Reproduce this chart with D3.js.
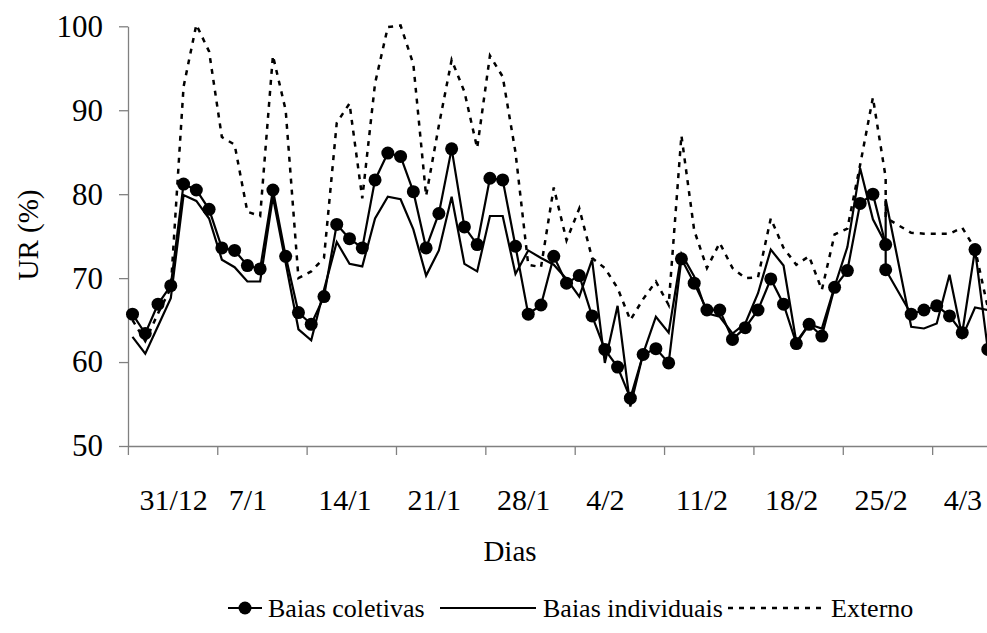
<!DOCTYPE html>
<html><head><meta charset="utf-8">
<script src="https://cdn.jsdelivr.net/npm/d3@7"></script>
<style>
body{margin:0;background:#fff}
svg{display:block}
svg text{font-family:"Liberation Serif","Tinos","Times New Roman",Times,"DejaVu Serif","Noto Serif",serif !important;fill:#000}
</style>
</head><body>
<svg id="c" width="987" height="633"></svg>
<script>
// Days counted from 31/12 (day 60 missing in the source; day 59 appears twice)
const dias = [0,1,2,3,4,5,6,7,8,9,10,11,12,13,14,15,16,17,18,19,20,21,22,23,24,25,26,27,28,29,
  30,31,32,33,34,35,36,37,38,39,40,41,42,43,44,45,46,47,48,49,50,51,52,53,54,55,56,57,58,59,59,
  61,62,63,64,65,66,67];
const coletivas = [65.7,63.4,66.9,69.1,81.2,80.5,78.2,73.6,73.3,71.5,71.1,80.5,72.6,65.9,64.5,67.8,
  76.4,74.7,73.6,81.7,84.9,84.5,80.3,73.6,77.7,85.4,76.1,74.0,81.9,81.7,73.8,65.7,66.8,72.6,69.4,
  70.3,65.5,61.5,59.4,55.7,60.9,61.6,59.9,72.3,69.4,66.2,66.2,62.7,64.1,66.2,69.9,66.9,62.2,64.5,
  63.1,68.9,70.9,78.9,80.0,74.0,71.0,65.7,66.2,66.7,65.5,63.5,73.4,61.5];
const individuais = [63.0,61.0,64.3,67.6,79.9,79.2,77.1,72.2,71.3,69.6,69.6,79.7,71.8,63.9,62.6,68.6,
  74.3,71.7,71.4,77.1,79.7,79.4,75.8,70.3,73.3,79.7,71.7,70.8,77.4,77.4,70.5,73.3,72.4,71.6,69.9,
  67.8,72.2,59.9,66.7,54.7,61.0,65.4,63.5,72.9,70.2,65.8,65.4,63.4,64.6,68.2,73.4,71.5,62.4,64.5,
  64.0,69.0,73.7,83.1,77.0,74.1,79.4,64.2,64.0,64.6,70.4,63.0,66.5,66.2];
const externo = [65.0,62.5,65.8,68.8,92.8,100.2,97.0,86.8,85.9,77.9,77.4,96.5,90.0,70.0,70.8,72.4,
  88.5,90.8,79.5,93.2,99.9,100.1,95.5,79.8,88.2,96.0,92.2,85.5,96.5,94.0,85.0,71.6,71.3,80.8,74.5,
  78.3,72.4,71.2,68.8,65.0,67.5,69.6,66.8,87.0,75.7,71.2,74.2,71.2,70.0,70.1,77.1,73.6,71.6,72.6,
  68.6,75.2,75.9,83.5,91.5,82.0,77.2,75.4,75.3,75.3,75.3,76.0,73.5,66.5];
const semanas = [0,7,14,21,28,35,42,49,56,63];
const rotulos = ["31/12","7/1","14/1","21/1","28/1","4/2","11/2","18/2","25/2","4/3"];
const yTicks = [50,60,70,80,90,100];
const series = ["Baias coletivas","Baias individuais","Externo"];

const FONT = '"Liberation Serif","Tinos","Times New Roman",Times,"DejaVu Serif","Noto Serif",serif';
const svg = d3.select("#c");
const x = d3.scaleLinear().domain([-0.36, 67]).range([127.9, 987.8]);
const y = d3.scaleLinear().domain([50, 100]).range([446, 26.3]);
const axisColor = "#808080";

// Y axis
const gy = svg.append("g").attr("transform","translate(128,0)")
  .call(d3.axisLeft(y).tickValues(yTicks).tickSize(9).tickSizeOuter(0).tickPadding(16).tickFormat(d3.format("d")));
gy.attr("font-family", FONT);
gy.selectAll("path,line").attr("stroke",axisColor).attr("stroke-width",1.3);
gy.selectAll("text").attr("font-size",31).attr("fill","#000");

// X axis
const gx = svg.append("g").attr("transform","translate(0,446)")
  .call(d3.axisBottom(x).tickValues(semanas.map(d=>d-0.36)).tickSize(9).tickSizeOuter(0).tickFormat(""));
gx.selectAll("path,line").attr("stroke",axisColor).attr("stroke-width",1.3);
svg.append("g").attr("font-family", FONT).selectAll("text").data(semanas).join("text")
  .attr("x", (d)=>x(d)+7).attr("y", 510)
  .attr("font-size",30).attr("text-anchor","start")
  .text((d,i)=>rotulos[i]);

// titles
svg.append("text").attr("font-family", FONT).attr("x",510).attr("y",561).attr("text-anchor","middle").attr("font-size",29).text("Dias");
svg.append("text").attr("font-family", FONT).attr("transform","translate(38,235) rotate(-90)").attr("text-anchor","middle").attr("font-size",29).text("UR (%)");

// lines
const line = (vals) => d3.line().x((d,i)=>x(dias[i])).y(d=>y(d))(vals);
svg.append("path").attr("d", line(externo)).attr("fill","none").attr("stroke","#000")
  .attr("stroke-width",2.5).attr("stroke-dasharray","5,6");
svg.append("path").attr("d", line(individuais)).attr("fill","none").attr("stroke","#000").attr("stroke-width",2.2);
svg.append("path").attr("d", line(coletivas)).attr("fill","none").attr("stroke","#000").attr("stroke-width",2.2);
svg.append("g").selectAll("circle").data(coletivas).join("circle")
  .attr("cx",(d,i)=>x(dias[i])).attr("cy",d=>y(d)).attr("r",6.5).attr("fill","#000");

// legend
const leg = svg.append("g").attr("font-family", FONT);
const ly = 608;
const items = [
  {x1:228,x2:262,tx:268,dash:null,marker:true},
  {x1:440,x2:536,tx:543,dash:null,marker:false},
  {x1:728,x2:824,tx:831,dash:"5,6",marker:false}
];
items.forEach((it,i)=>{
  leg.append("line").attr("x1",it.x1).attr("x2",it.x2).attr("y1",ly).attr("y2",ly)
    .attr("stroke","#000").attr("stroke-width",it.dash?2.5:2.2).attr("stroke-dasharray",it.dash);
  if(it.marker) leg.append("circle").attr("cx",(it.x1+it.x2)/2).attr("cy",ly).attr("r",6.5).attr("fill","#000");
  leg.append("text").attr("x",it.tx).attr("y",ly+9).attr("font-size",26).text(series[i]);
});
</script>
</body></html>
